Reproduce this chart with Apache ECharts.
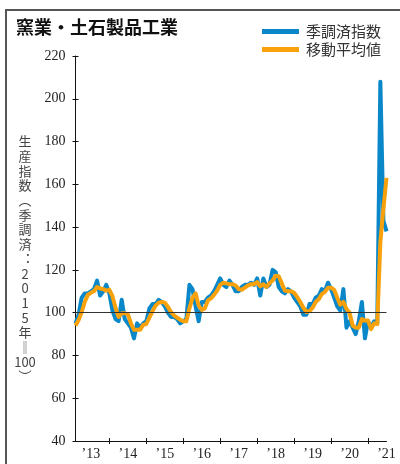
<!DOCTYPE html>
<html>
<head>
<meta charset="utf-8">
<script src="https://cdn.jsdelivr.net/npm/echarts@6/dist/echarts.min.js"></script>
<style>
html,body{margin:0;padding:0;background:#fff;}
#c{width:400px;height:464px;}
</style>
</head>
<body>
<div id="c"></div>
<script>
// ---- data (Feb 2013 .. Jul 2021, monthly) ----
const START_YEAR = 2013;
const START_MONTH = 2;
const seasonal2013 = [95, 99, 107, 109, 109, 110, 111, 115, 108, 110, 113];
const seasonal2014 = [109, 101, 97, 96, 106, 97, 95, 93, 88, 95, 93, 95];
const seasonal2015 = [96, 102, 104, 104, 106, 105, 103, 100, 98, 98, 97, 95];
const seasonal2016 = [96, 97, 113, 111, 103, 96, 105, 105, 107, 108, 110, 113];
const seasonal2017 = [116, 113, 112, 115, 113, 110, 110, 112, 113, 113, 114, 113];
const seasonal2018 = [116, 108, 116, 112, 113, 120, 119, 112, 110, 109, 111, 110];
const seasonal2019 = [107, 105, 103, 99, 99, 104, 104, 107, 108, 111, 110, 114];
const seasonal2020 = [111, 107, 103, 101, 111, 93, 96, 93, 90, 96, 105, 88];
const seasonal2021 = [96, 93, 96, 95, 208, 143, 138];

const moving2013 = [94, 96.5, 100.3, 105, 108.3, 109.3, 110, 112, 111.3, 111, 110.3];
const moving2014 = [110.7, 107.7, 102.3, 98, 99.7, 99.7, 99.3, 95, 92, 92, 92, 94.3];
const moving2015 = [94.7, 97.7, 100.7, 103.3, 104.7, 105, 104.7, 102.7, 100.3, 98.7, 97.7, 96.7];
const moving2016 = [96, 96, 102, 107, 109, 103.3, 101.3, 102, 105.7, 106.7, 108.3, 110.3];
const moving2017 = [113, 114, 113.7, 113.3, 113.3, 112.7, 111, 110.7, 111.7, 112.7, 113.3, 113.3];
const moving2018 = [114.3, 112.3, 113.3, 112, 113.7, 115, 117.3, 117, 113.7, 110.3, 110, 110];
const moving2019 = [109.3, 107.3, 105, 102.3, 100.3, 100.7, 102.3, 105, 106.3, 108.7, 109.7, 111.7];
const moving2020 = [111.7, 110.7, 107, 103.7, 105, 101.7, 100, 94, 93, 93, 97, 96.3];
const moving2021 = [96.3, 92.3, 95, 94.7, 133, 148.7, 163];

const SERIES_NAMES = ['季調済指数', '移動平均値'];
const REFERENCE_LEVEL = 100;
const Y_TITLE_LINES = ['生','産','指','数','︵','季','調','済','︓','2','0','1','5','年','‖','100','︶'];

const seasonal = [].concat(seasonal2013, seasonal2014, seasonal2015, seasonal2016, seasonal2017,
  seasonal2018, seasonal2019, seasonal2020, seasonal2021);
const moving = [].concat(moving2013, moving2014, moving2015, moving2016, moving2017,
  moving2018, moving2019, moving2020, moving2021);

const categories = [];
for (let k = 0; k < seasonal.length; k++) {
  const m0 = START_MONTH - 1 + k;
  const y = START_YEAR + Math.floor(m0 / 12);
  const m = (m0 % 12) + 1;
  categories.push(y + '-' + (m < 10 ? '0' + m : m));
}

const isJan = (i, v) => v.slice(5) === '01';
const isJul = (i, v) => v.slice(5) === '07';
const serif = '"Liberation Serif", "DejaVu Serif", serif';
const jp = '"Noto Sans CJK JP", sans-serif';

const chart = echarts.init(document.getElementById('c'), null, {renderer: 'canvas'});
chart.setOption({
  animation: false,
  backgroundColor: '#fff',
  grid: {left: 75.5, right: 13.5, top: 56, bottom: 23, containLabel: false},
  legend: {
    orient: 'vertical', left: 257, top: 19, itemGap: 3,
    itemWidth: 37, itemHeight: 5, icon: 'rect',
    textStyle: {fontFamily: jp, fontSize: 15, color: '#333', lineHeight: 15, padding: [0,0,0,2]},
    data: SERIES_NAMES
  },
  xAxis: [{
    type: 'category', data: categories, boundaryGap: false,
    axisLine: {lineStyle: {color: '#111', width: 1}},
    axisTick: {show: true, interval: isJan, length: 3, lineStyle: {color: '#111'}},
    axisLabel: {interval: isJul, formatter: v => '’' + v.slice(2, 4), fontFamily: serif, fontSize: 14, color: '#222', margin: 6},
    splitLine: {show: false}
  }, {
    type: 'category', data: categories, boundaryGap: false, position: 'bottom',
    axisLine: {show: false},
    axisTick: {show: true, inside: true, interval: isJan, length: 3, lineStyle: {color: '#111'}},
    axisLabel: {show: false}, splitLine: {show: false}
  }],
  yAxis: [{
    type: 'value', min: 40, max: 220, interval: 20,
    axisLine: {show: true, lineStyle: {color: '#111', width: 1}},
    axisTick: {show: true, length: 3, lineStyle: {color: '#111'}},
    axisLabel: {fontFamily: serif, fontSize: 14, color: '#222', margin: 10},
    splitLine: {show: false}
  }, {
    type: 'value', min: 40, max: 220, interval: 20, position: 'left',
    axisLine: {show: false},
    axisTick: {show: true, inside: true, length: 3, lineStyle: {color: '#111'}},
    axisLabel: {show: false}, splitLine: {show: false}
  }],
  series: [{
    type: 'line', data: [], z: 1, silent: true,
    markLine: {silent: true, symbol: 'none', label: {show: false},
      lineStyle: {color: '#333', width: 1, type: 'solid'},
      data: [{yAxis: REFERENCE_LEVEL}]}
  }, {
    name: SERIES_NAMES[0], type: 'line', data: seasonal, z: 3,
    showSymbol: false, symbol: 'none',
    lineStyle: {color: '#0a87c8', width: 4, join: 'round'},
    itemStyle: {color: '#0a87c8'}
  }, {
    name: SERIES_NAMES[1], type: 'line', data: moving, z: 4,
    showSymbol: false, symbol: 'none',
    lineStyle: {color: '#f8a10a', width: 4, join: 'round'},
    itemStyle: {color: '#f8a10a'}
  }],
  graphic: [{
    type: 'rect', shape: {x: 6, y: 10, width: 600, height: 600},
    style: {fill: 'none', stroke: '#555', lineWidth: 2}, silent: true, z: 0
  }, {
    type: 'text', left: 16, top: 18,
    style: {text: '窯業・土石製品工業', font: 'bold 18px "Noto Sans CJK JP", sans-serif', fill: '#111'}
  }, {
    type: 'text', x: 25, y: 134,
    style: {text: Y_TITLE_LINES.join('\n'), fontFamily: jp, fontSize: 13, lineHeight: 14.7,
      align: 'center', verticalAlign: 'top', fill: '#444'}
  }]
});
</script>
</body>
</html>
